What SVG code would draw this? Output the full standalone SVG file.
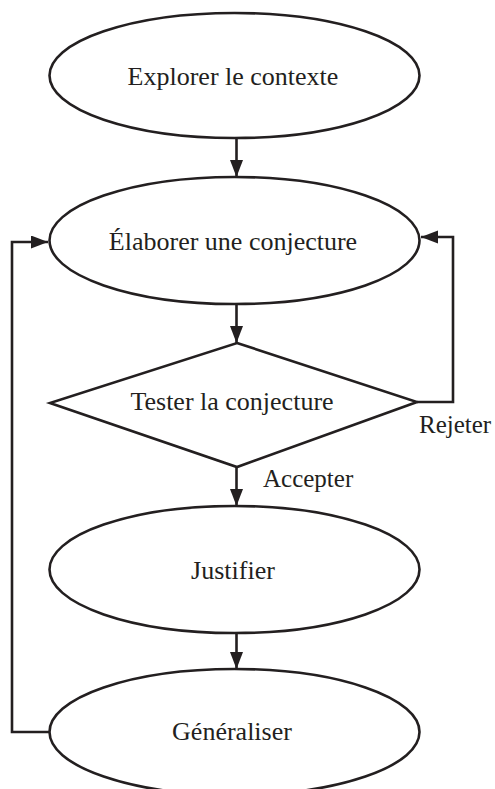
<svg xmlns="http://www.w3.org/2000/svg" width="495" height="789" viewBox="0 0 495 789">
<style>
.shape{fill:#fff;stroke:#231f20;stroke-width:2.6}
.conn{fill:none;stroke:#231f20;stroke-width:2.6}
.lbl{font-family:"Liberation Serif","Times New Roman",serif;font-size:26px;fill:#231f20;text-anchor:middle}
.edge{font-family:"Liberation Serif","Times New Roman",serif;font-size:25px;fill:#231f20}
</style>
<defs>
<marker id="ah" markerUnits="userSpaceOnUse" markerWidth="18" markerHeight="14" refX="17" refY="6.5" orient="auto">
<path d="M0,0 L17,6.5 L0,13 z" fill="#231f20"/>
</marker>
</defs>
<g id="connectors">
<line class="conn" x1="236.5" y1="138" x2="236.5" y2="177" marker-end="url(#ah)"/>
<line class="conn" x1="236.5" y1="304" x2="236.5" y2="343" marker-end="url(#ah)"/>
<line class="conn" x1="236.5" y1="467" x2="236.5" y2="506" marker-end="url(#ah)"/>
<line class="conn" x1="236.5" y1="633" x2="236.5" y2="669" marker-end="url(#ah)"/>
<polyline class="conn" points="417,402 453,402 453,237 421,237" marker-end="url(#ah)"/>
<polyline class="conn" points="49,732 12,732 12,242 48,242" marker-end="url(#ah)"/>
<text class="edge" x="419" y="433">Rejeter</text>
<text class="edge" x="263" y="487">Accepter</text>
</g>
<g id="explorer">
<ellipse class="shape" cx="234.5" cy="75.5" rx="185" ry="62.5"/>
<text class="lbl" x="233" y="85">Explorer le contexte</text>
</g>
<g id="elaborer">
<ellipse class="shape" cx="234.5" cy="240.5" rx="185" ry="63.5"/>
<text class="lbl" x="233" y="250">Élaborer une conjecture</text>
</g>
<g id="tester">
<polygon class="shape" points="237,343 417,402 237,467 50,403"/>
<text class="lbl" x="232" y="410">Tester la conjecture</text>
</g>
<g id="justifier">
<ellipse class="shape" cx="234.5" cy="569.5" rx="185" ry="63.5"/>
<text class="lbl" x="233" y="579">Justifier</text>
</g>
<g id="generaliser">
<ellipse class="shape" cx="234.5" cy="732" rx="185" ry="63"/>
<text class="lbl" x="232" y="740">Généraliser</text>
</g>
</svg>
